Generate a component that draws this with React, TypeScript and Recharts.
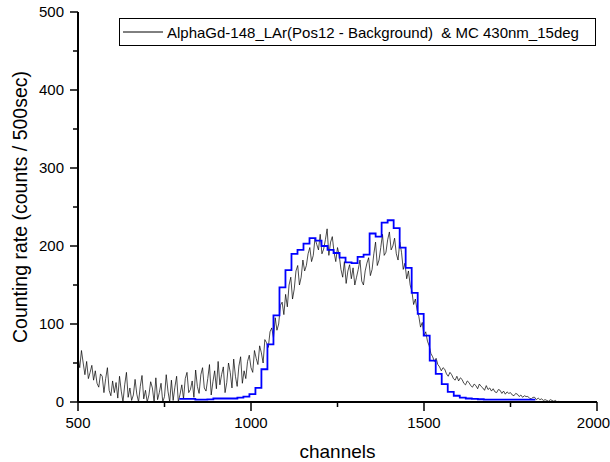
import React from 'react';
import { ComposedChart, Line, XAxis, YAxis, Legend } from 'recharts';

// ---- Measured spectrum (counts per 5-channel sample), channels 500..1900 ----
const DATA_CHANNEL_START = 500;
const DATA_CHANNEL_STEP = 5;
const MEASURED_COUNTS: number[] = [
  // 500-545
  58, 44, 66, 50, 35, 52, 30, 38, 47, 28,
  // 550-595
  40, 24, 19, 36, 33, 12, 30, 44, 15, 8,
  // 600-645
  27, 12, 25, 5, 33, 14, 0, 22, 38, 6,
  // 650-695
  18, 2, 9, 29, 10, 0, 20, 34, 4, 15,
  // 700-745
  0, 9, 26, 18, 0, 31, 3, 12, 24, 0,
  // 750-795
  7, 35, 14, 0, 28, 2, 19, 33, 0, 10,
  // 800-845
  22, 4, 30, 38, 12, 16, 27, 6, 41, 20,
  // 850-895
  11, 35, 44, 18, 14, 30, 48, 9, 26, 40,
  // 900-945
  17, 52, 22, 35, 45, 12, 25, 50, 38, 18,
  // 950-995
  55, 33, 20, 46, 58, 24, 40, 30, 52, 60,
  // 1000-1045
  44, 38, 66, 56, 48, 72, 63, 50, 80, 76,
  // 1050-1095
  70, 90, 95, 82, 108, 92, 100, 124, 128, 112,
  // 1100-1145
  138, 122, 150, 160, 132, 145, 168, 175, 150, 160,
  // 1150-1195
  182, 168, 175, 190, 198, 180, 188, 210, 202, 195,
  // 1200-1245
  215, 190, 196, 208, 222, 188, 205, 212, 192, 180,
  // 1250-1295
  198, 188, 170, 160, 180, 152, 168, 176, 158, 172,
  // 1300-1345
  150, 160, 170, 182, 155, 150, 168, 178, 185, 162,
  // 1350-1395
  170, 190, 205, 175, 182, 198, 215, 188, 192, 208,
  // 1400-1445
  218, 195, 200, 210, 190, 182, 205, 192, 170, 178,
  // 1450-1495
  158, 168, 150, 142, 125, 132, 118, 110, 96, 102,
  // 1500-1545
  85, 90, 78, 72, 62, 58, 52, 56, 48, 45,
  // 1550-1595
  40, 44, 42, 36, 33, 38, 35, 30, 28, 33,
  // 1600-1645
  27, 31, 29, 24, 22, 27, 25, 21, 19, 23,
  // 1650-1695
  21, 17, 23, 20, 18, 15, 21, 16, 18, 14,
  // 1700-1745
  17, 13, 12, 16, 15, 11, 14, 10, 13, 11,
  // 1750-1795
  12, 9, 8, 11, 10, 7, 9, 6, 8, 7,
  // 1800-1845
  7, 5, 4, 6, 6, 3, 5, 3, 4, 2,
  // 1850-1895
  3, 2, 1, 3, 2, 1, 2, 0, 1, 0,
  // 1900
  0,
];

// ---- Monte Carlo histogram (blue steps): left bin edges and bin values ----
const MC_BIN_EDGES: number[] = [
  793, 804.3, 821.7, 839.1, 856.4, 873.8, 891.2, 908.6, 925.9, 943.3, 960.7, 978.0,
  995.4, 1012.8, 1030.1, 1047.5, 1064.9, 1082.3, 1099.6, 1117.0, 1134.4, 1151.7,
  1169.1, 1186.5, 1203.8, 1221.2, 1238.6, 1256.0, 1273.3, 1290.7, 1308.1, 1325.4,
  1342.8, 1360.2, 1377.5, 1394.9, 1412.3, 1429.7, 1447.0, 1464.4, 1481.8, 1499.1,
  1516.5, 1533.9, 1551.2, 1568.6, 1586.0, 1603.4, 1620.7, 1638.1, 1655.5, 1672.8,
  1690.2, 1707.6, 1724.9, 1742.3, 1759.7, 1777.1, 1794.4, 1811.8,
];
const MC_LAST_EDGE = 1822;
const MC_VALUES: number[] = [
  4, 4, 4, 3, 3, 3.3, 4.5, 4.5, 4.5, 4.5, 5.5, 7,
  10, 18, 42, 74, 111, 147, 169, 190, 195, 203,
  210, 207, 200, 195, 191, 185, 179, 178, 186, 189,
  216, 212, 230, 233, 223, 198, 172, 140, 113, 85,
  53, 36, 23, 13, 8, 5.5, 4.5, 4, 3.5, 3,
  3, 3, 3, 3, 3, 3, 3, 3,
];

const X_TICKS = [500, 750, 1000, 1250, 1500, 1750, 2000];
const X_MAJOR_STEP = 500;
const Y_TICKS = [0, 50, 100, 150, 200, 250, 300, 350, 400, 450, 500];
const Y_MAJOR_STEP = 100;

const SERIES_NAME = 'AlphaGd-148_LAr(Pos12 - Background)  & MC 430nm_15deg';
const X_TITLE = 'channels';
const Y_TITLE = 'Counting rate (counts / 500sec)';

const FONT = '"Liberation Sans", Arial, Helvetica, sans-serif';

const measuredData = MEASURED_COUNTS.map((c, i) => ({
  ch: DATA_CHANNEL_START + i * DATA_CHANNEL_STEP,
  counts: c,
}));

const mcData = [
  ...MC_BIN_EDGES.map((e, i) => ({ ch: e, mc: MC_VALUES[i] })),
  { ch: MC_LAST_EDGE, mc: MC_VALUES[MC_VALUES.length - 1] },
];

const XTick = (props: any) => {
  const { x, y, payload, index } = props;
  const major = payload.value % X_MAJOR_STEP === 0;
  const isLast = index === X_TICKS.length - 1;
  return (
    <g>
      <line x1={x} y1={y} x2={x} y2={y + (major ? 9 : 5)} stroke="#000" strokeWidth={1.5} />
      {major && (
        <text
          x={isLast ? x - 3.5 : x}
          y={y + 26}
          textAnchor="middle"
          fontSize={15}
          fontFamily={FONT}
          fill="#000"
        >
          {payload.value}
        </text>
      )}
    </g>
  );
};

const YTick = (props: any) => {
  const { x, y, payload } = props;
  const major = payload.value % Y_MAJOR_STEP === 0;
  return (
    <g>
      <line x1={x} y1={y} x2={x - (major ? 8 : 5)} y2={y} stroke="#000" strokeWidth={1.5} />
      {major && (
        <text x={x - 14} y={y + 5.4} textAnchor="end" fontSize={15} fontFamily={FONT} fill="#000">
          {payload.value}
        </text>
      )}
    </g>
  );
};

const renderXLabel = (props: any) => {
  const vb = props.viewBox || {};
  const cx = (vb.x ?? 78) + (vb.width ?? 519) / 2;
  return (
    <text x={cx} y={458} textAnchor="middle" fontSize={19} fontFamily={FONT} fill="#000">
      {X_TITLE}
    </text>
  );
};

const renderYLabel = () => {
  const cy = 207;
  const cx = 27;
  return (
    <text
      x={cx}
      y={cy}
      transform={`rotate(-90 ${cx} ${cy})`}
      textAnchor="middle"
      fontSize={19.5}
      fontFamily={FONT}
      fill="#000"
    >
      {Y_TITLE}
    </text>
  );
};

const renderLegend = (props: any) => {
  const payload = (props.payload || []).filter((p: any) => p.type !== 'none');
  const label = payload.length ? payload[0].value : SERIES_NAME;
  return (
    <div
      style={{
        boxSizing: 'border-box',
        width: 477,
        height: 28,
        border: '1px solid #000',
        display: 'flex',
        alignItems: 'center',
        fontFamily: FONT,
        fontSize: 15,
        color: '#000',
        background: '#fff',
        whiteSpace: 'pre',
      }}
    >
      <svg width={47} height={10} style={{ flex: 'none' }}>
        <line x1={3} y1={5} x2={43} y2={5} stroke="#000" strokeWidth={1} />
      </svg>
      <span>{label}</span>
    </div>
  );
};

export default function App() {
  return (
    <div style={{ position: 'absolute', left: 0, top: 0, width: 610, height: 462, background: '#fff' }}>
      <ComposedChart
        width={610}
        height={462}
        margin={{ top: 12, right: 13, bottom: 0, left: 0 }}
      >
        <XAxis
          dataKey="ch"
          type="number"
          domain={[500, 2000]}
          ticks={X_TICKS}
          allowDataOverflow
          height={60}
          axisLine={{ stroke: '#000', strokeWidth: 2 }}
          tickLine={false}
          tickSize={0}
          tickMargin={0}
          tick={<XTick />}
          interval={0}
          label={renderXLabel}
        />
        <YAxis
          type="number"
          domain={[0, 500]}
          ticks={Y_TICKS}
          allowDataOverflow
          width={78}
          axisLine={{ stroke: '#000', strokeWidth: 2 }}
          tickLine={false}
          tickSize={0}
          tickMargin={0}
          tick={<YTick />}
          interval={0}
          label={renderYLabel}
        />
        <Legend
          layout="horizontal"
          verticalAlign="middle"
          align="center"
          wrapperStyle={{ top: 18, left: 119, width: 477, height: 28 }}
          content={renderLegend}
        />
        <Line
          data={measuredData}
          dataKey="counts"
          name={SERIES_NAME}
          type="linear"
          stroke="#000"
          strokeWidth={0.7}
          dot={false}
          activeDot={false}
          isAnimationActive={false}
        />
        <Line
          data={mcData}
          dataKey="mc"
          name="MC"
          type="stepAfter"
          stroke="#0000ff"
          strokeWidth={1.8}
          dot={false}
          activeDot={false}
          legendType="none"
          isAnimationActive={false}
        />
      </ComposedChart>
    </div>
  );
}
